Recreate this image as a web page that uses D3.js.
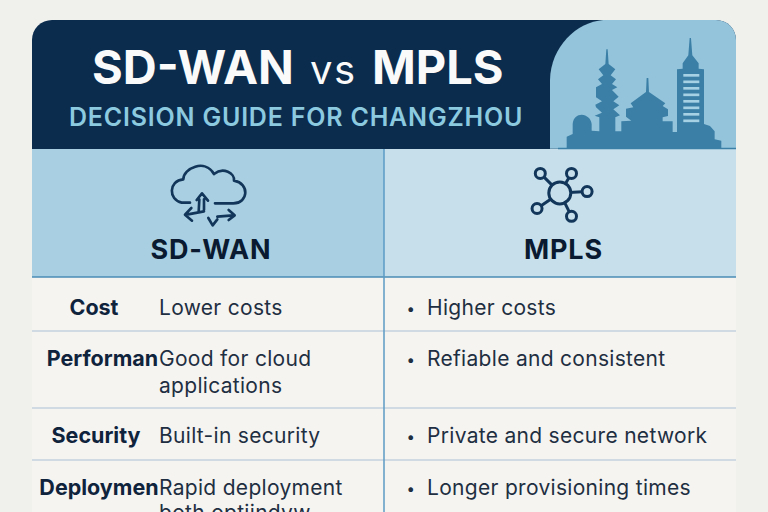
<!DOCTYPE html>
<html>
<head>
<meta charset="utf-8">
<script src="https://cdn.jsdelivr.net/npm/d3@7"></script>
<style>
  html, body { margin: 0; padding: 0; background: #f0f0ed; overflow: hidden; }
  svg { display: block; font-family: Inter, "Open Sans", sans-serif; }
</style>
</head>
<body>
<div id="chart"></div>
<script>
const categories = ["Cost", "Performan", "Security", "Deploymen"]
const sdwanValues = [["Lower costs"], ["Good for cloud", "applications"], ["Built-in security"], ["Rapid deployment", "both optiindyw"]]
const mplsValues = ["Higher costs", "Refiable and consistent", "Private and secure network", "Longer provisioning times"]
const columns = ["SD-WAN", "MPLS"]
const title = ["SD-WAN", "vs", "MPLS"]
const subtitle = "DECISION GUIDE FOR CHANGZHOU"

// layout
const width = 768, height = 512
const cardLeft = 32, cardRight = 736, cardTop = 20, headBottom = 149, colTop = 277
const rowEdges = [277, 331, 408, 460, 530]
const labelCentres = [94, 102.5, 96, 99]
const rowBaselines = [[315], [366, 393], [443], [495, 520]]
const mplsBaselines = [315, 366, 443, 495]

const labelX = d3.scaleOrdinal(categories, labelCentres)
const colX = d3.scaleOrdinal(columns, [211, 563.5])
const titleX = d3.scaleOrdinal(title, [92, 310, 372])

const navy = "#0b2c4d", ink = "#10233c", rule = "#a9c0d3", blueRule = "#5b9bc4"

const svg = d3.select("#chart").append("svg").attr("width", width).attr("height", height)

const defs = svg.append("defs")
defs.append("clipPath").attr("id", "card")
  .append("rect").attr("x", cardLeft).attr("y", cardTop)
  .attr("width", cardRight - cardLeft).attr("height", height + 40).attr("rx", 20)

const card = svg.append("g").attr("clip-path", "url(#card)")

// page body + header blocks
card.append("rect").attr("x", cardLeft).attr("y", cardTop).attr("width", cardRight - cardLeft)
  .attr("height", height).attr("fill", "#f5f4f1")
card.append("rect").attr("x", cardLeft).attr("y", cardTop).attr("width", cardRight - cardLeft)
  .attr("height", headBottom - cardTop).attr("fill", navy)
card.append("rect").attr("x", cardLeft).attr("y", headBottom).attr("width", 384 - cardLeft)
  .attr("height", colTop - headBottom).attr("fill", "#a9d0e2")
card.append("rect").attr("x", 384).attr("y", headBottom).attr("width", cardRight - 384)
  .attr("height", colTop - headBottom).attr("fill", "#c6dfeb")

// skyline panel, drawn in the 3x crop coordinates
const sky = card.append("g").attr("transform", "translate(520,0) scale(0.3333)")
sky.append("path")
  .attr("d", "M90,446 L90,240 C92,140 170,66 250,60 L700,60 L700,446 Z")
  .attr("fill", "#93c4dc")
sky.append("path").attr("fill", "#3b7fa6")
  .attr("d", "M140,446 L140,410 L158,402 L158,372 C160,352 172,344 185,344 C200,345 214,356 215,372 L215,392 L238,394 L238,352 L224,347 L246,338 L228,322 L226,314 L246,304 L228,292 L228,262 L246,252 L234,238 L250,226 L236,208 L256,192 L259,148 L263,148 L266,192 L286,208 L272,226 L288,238 L276,252 L292,262 L276,270 L296,290 L280,304 L298,316 L280,328 L300,346 L286,352 L286,394 L304,394 L304,364 L334,362 L318,350 L318,326 L340,322 L332,310 L378,276 L380,234 L385,234 L387,276 L436,310 L428,318 L444,328 L444,348 L428,352 L428,364 L458,364 L458,396 L471,396 L471,208 L488,206 L488,190 L505,166 L509,114 L513,114 L517,166 L536,190 L536,206 L552,208 L552,372 L570,378 L584,394 L584,418 L604,422 L604,446 Z")
sky.append("g").attr("fill", "#a6d0e4")
  .selectAll("rect").data(d3.range(8)).join("rect")
  .attr("x", 490).attr("width", 48).attr("height", 8)
  .attr("y", (d) => 222 + d * 19.5)
card.append("line").attr("x1", 558).attr("x2", cardRight).attr("y1", 148.5).attr("y2", 148.5)
  .attr("stroke", "#3b7fa6").attr("stroke-width", 1.5)

// header titles
card.selectAll(".title").data(title).join("text")
  .attr("class", "title").attr("x", (d) => titleX(d)).attr("y", 84).attr("fill", "#fafafa")
  .attr("font-size", (d) => d === "vs" ? 40 : 47)
  .attr("font-weight", (d) => d === "vs" ? 400 : 700)
  .attr("letter-spacing", (d) => d === "vs" ? 1.5 : 0)
  .text((d) => d)

card.append("text").attr("x", 69).attr("y", 126).attr("fill", "#8ccae0")
  .attr("font-size", 25).attr("font-weight", 600).attr("letter-spacing", 0.8).text(subtitle)

// column heads
card.selectAll(".col").data(columns).join("text")
  .attr("class", "col")
  .attr("x", (d) => colX(d)).attr("y", 259)
  .attr("text-anchor", "middle").attr("fill", "#0a1a30")
  .attr("font-size", 27).attr("font-weight", 700).attr("letter-spacing", 0.8).text((d) => d)

// SD-WAN icon, crop coordinates again
const cloud = card.append("g").attr("transform", "translate(140,150) scale(0.3333)")
  .attr("fill", "none").attr("stroke", "#12365a").attr("stroke-width", 8)
  .attr("stroke-linecap", "round").attr("stroke-linejoin", "round")
cloud.append("path").attr("d", "M150,158 L125,158 C85,150 85,92 130,88 C130,55 195,25 222,72 C250,50 285,70 282,92 C330,100 325,160 280,160 L225,160")
cloud.append("path").attr("d", "M170,150 L186,130 L204,152 M178,148 L176,186 M192,148 L192,180 M192,184 L140,194 M154,174 L135,194 L156,212 M232,200 L280,196 M266,180 L284,196 L266,210 M205,204 L218,226 L232,208")

// MPLS icon: hub and spokes
const hubX = d3.scaleLinear([0, 1], [500, 630])
const hubY = d3.scaleLinear([0, 1], [150, 280])
const spokes = [[0.31, 0.18], [0.55, 0.18], [0.67, 0.32], [0.285, 0.45], [0.55, 0.51]]
const hub = [0.46, 0.33]
const mpls = card.append("g").attr("fill", "none").attr("stroke", "#12365a").attr("stroke-width", 3)
mpls.selectAll("line").data(spokes).join("line")
  .attr("x1", hubX(hub[0])).attr("y1", hubY(hub[1]))
  .attr("x2", (d) => hubX(d[0])).attr("y2", (d) => hubY(d[1]))
mpls.append("circle").attr("cx", hubX(hub[0])).attr("cy", hubY(hub[1])).attr("r", 11).attr("fill", "#c6dfeb")
mpls.selectAll(".node").data(spokes).join("circle")
  .attr("class", "node").attr("cx", (d) => hubX(d[0])).attr("cy", (d) => hubY(d[1]))
  .attr("r", 5).attr("fill", "#c6dfeb")

// grid rules
card.selectAll(".rule").data(rowEdges.slice(0, 4)).join("line")
  .attr("class", "rule").attr("x1", cardLeft).attr("x2", cardRight)
  .attr("y1", (d) => d).attr("y2", (d) => d)
  .attr("stroke", (d, i) => i ? rule : "#4a8db5").attr("stroke-width", (d, i) => i ? 1 : 1.5)
card.append("line").attr("x1", 384).attr("x2", 384).attr("y1", headBottom).attr("y2", height)
  .attr("stroke", blueRule).attr("stroke-width", 1.5)

// table rows
card.selectAll(".label").data(categories).join("text")
  .attr("class", "label").attr("x", (d) => labelX(d)).attr("y", (d, i) => rowBaselines[i][0])
  .attr("text-anchor", "middle").attr("fill", ink)
  .attr("font-size", 21.5).attr("font-weight", 700).text((d) => d)

card.selectAll(".sd").data(sdwanValues).join("text")
  .attr("class", "sd").attr("fill", "#1f2f42").attr("font-size", 21).attr("letter-spacing", 0.3)
  .selectAll("tspan").data((d, i) => d.map((t, j) => ({ t, y: rowBaselines[i][j] }))).join("tspan")
  .attr("x", 159).attr("y", (d) => d.y).text((d) => d.t)

card.selectAll(".bullet").data(mplsValues).join("text")
  .attr("class", "bullet").attr("x", 406.5).attr("y", (d, i) => mplsBaselines[i] - 1)
  .attr("fill", "#1f2f42").attr("font-size", 15).text("•")

card.selectAll(".mp").data(mplsValues).join("text")
  .attr("class", "mp").attr("x", 427).attr("y", (d, i) => mplsBaselines[i])
  .attr("fill", "#1f2f42").attr("font-size", 21).attr("letter-spacing", 0.3).text((d) => d)
</script>
</body>
</html>
